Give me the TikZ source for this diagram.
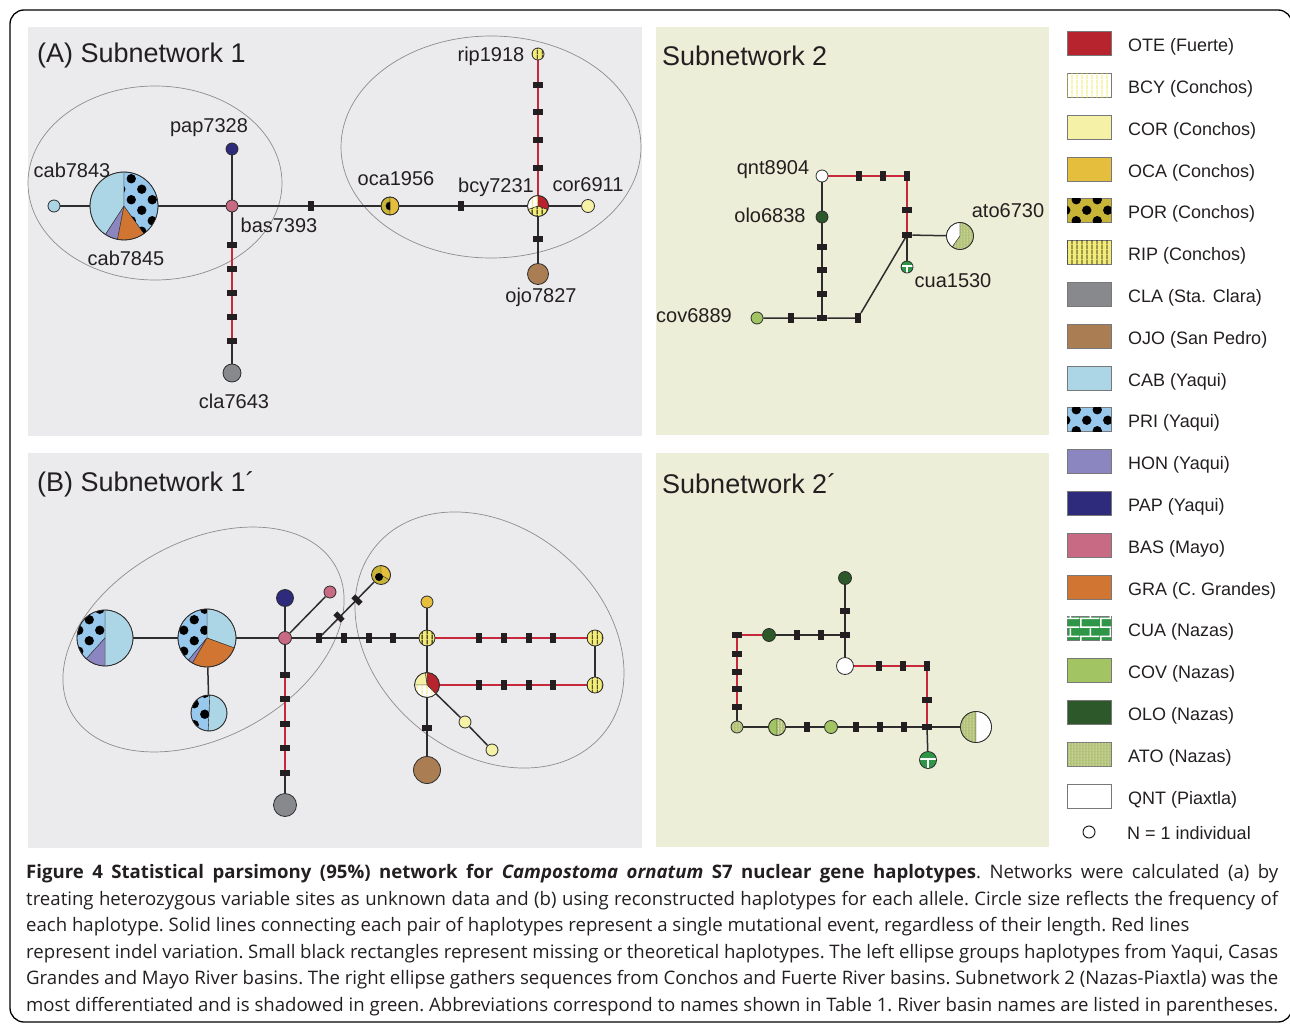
\documentclass[tikz,border=0pt]{standalone}
\usepackage{fontspec}
\setmainfont{Liberation Sans}
\newfontfamily\capfont{Open Sans}
\usetikzlibrary{patterns}

\definecolor{OTE}{RGB}{183,36,46}
\definecolor{BCYl}{RGB}{240,226,40}
\definecolor{COR}{RGB}{245,242,168}
\definecolor{OCA}{RGB}{228,190,60}
\definecolor{POR}{RGB}{200,180,55}
\definecolor{RIP}{RGB}{243,236,120}
\definecolor{CLA}{RGB}{136,137,140}
\definecolor{OJO}{RGB}{170,125,82}
\definecolor{CAB}{RGB}{172,213,229}
\definecolor{PRI}{RGB}{152,200,236}
\definecolor{HON}{RGB}{140,134,192}
\definecolor{PAP}{RGB}{46,43,125}
\definecolor{BAS}{RGB}{200,106,132}
\definecolor{GRA}{RGB}{208,117,50}
\definecolor{CUA}{RGB}{47,150,72}
\definecolor{COV}{RGB}{162,196,98}
\definecolor{OLO}{RGB}{45,88,42}
\definecolor{ATO}{RGB}{178,194,120}
\definecolor{ATOl}{RGB}{232,236,200}
\definecolor{panelA}{RGB}{235,235,238}
\definecolor{panelB}{RGB}{237,238,216}
\definecolor{linec}{RGB}{45,45,45}
\definecolor{indelc}{RGB}{200,40,60}
\definecolor{barc}{RGB}{35,31,32}
\definecolor{textc}{RGB}{35,31,32}
\definecolor{ringc}{RGB}{140,140,140}
\definecolor{swc}{RGB}{120,120,120}

% fill patterns of the haplotype groups
\pgfdeclarepatternformonly{hapdots}{\pgfpoint{-1pt}{-1pt}}{\pgfpoint{22pt}{22pt}}{\pgfpoint{21pt}{21pt}}{%
  \pgfpathcircle{\pgfpoint{5.25pt}{5.25pt}}{4.7pt}%
  \pgfpathcircle{\pgfpoint{15.75pt}{15.75pt}}{4.7pt}%
  \pgfusepath{fill}}
\pgfdeclarepatternformonly{hapstripes}{\pgfpointorigin}{\pgfpoint{5pt}{5pt}}{\pgfpoint{5pt}{5pt}}{%
  \pgfpathrectangle{\pgfpoint{2pt}{0pt}}{\pgfpoint{0.9pt}{5pt}}%
  \pgfusepath{fill}}
\pgfdeclarepatternformonly{hapfine}{\pgfpointorigin}{\pgfpoint{3pt}{3pt}}{\pgfpoint{3pt}{3pt}}{%
  \pgfpathrectangle{\pgfpoint{1pt}{0pt}}{\pgfpoint{0.8pt}{3pt}}%
  \pgfusepath{fill}}
\pgfdeclarepatternformonly{hapbricks}{\pgfpointorigin}{\pgfpoint{20pt}{18pt}}{\pgfpoint{20pt}{18pt}}{%
  \pgfpathrectangle{\pgfpoint{0pt}{0pt}}{\pgfpoint{20pt}{1.6pt}}%
  \pgfpathrectangle{\pgfpoint{0pt}{9pt}}{\pgfpoint{20pt}{1.6pt}}%
  \pgfpathrectangle{\pgfpoint{0pt}{0pt}}{\pgfpoint{1.6pt}{9pt}}%
  \pgfpathrectangle{\pgfpoint{10pt}{9pt}}{\pgfpoint{1.6pt}{9pt}}%
  \pgfusepath{fill}}

\pgfdeclarelayer{back}
\pgfdeclarelayer{edge}
\pgfsetlayers{back,edge,main}

\tikzset{
  hap/.style={circle, draw=linec, line width=0.8pt, inner sep=0pt, minimum size=#1},
  link/.style={draw=linec, line width=1.5pt},
  indel/.style={draw=indelc, line width=1.5pt},
  mut/.style={rectangle, fill=barc, inner sep=0pt, minimum width=5.5pt, minimum height=10.5pt},
  mutv/.style={mut, minimum width=10.5pt, minimum height=5.5pt},
  ring/.style={draw=ringc, line width=0.7pt},
  lbl/.style={font=\fontsize{20}{24}\selectfont, text=textc, inner sep=0pt},
  ttl/.style={font=\fontsize{27}{32}\selectfont, text=textc, inner sep=0pt, anchor=west},
  legtxt/.style={font=\fontsize{18}{22}\selectfont, text=textc, inner sep=0pt, anchor=west},
  swatch/.style={rectangle, draw=swc, line width=0.7pt, inner sep=0pt, minimum width=44pt, minimum height=24pt},
  sOTE/.style={fill=OTE},
  sBCY/.style={fill=white, postaction={pattern=hapstripes, pattern color=BCYl}},
  sCOR/.style={fill=COR},
  sOCA/.style={fill=OCA},
  sPOR/.style={fill=POR, postaction={pattern=hapdots, pattern color=black}},
  sPORp/.style={fill=POR},
  sRIP/.style={fill=RIP, postaction={pattern=hapstripes, pattern color=black}},
  sCLA/.style={fill=CLA},
  sOJO/.style={fill=OJO},
  sCAB/.style={fill=CAB},
  sPRI/.style={fill=PRI, postaction={pattern=hapdots, pattern color=black}},
  sHON/.style={fill=HON},
  sPAP/.style={fill=PAP},
  sBAS/.style={fill=BAS},
  sGRA/.style={fill=GRA},
  sCUA/.style={fill=CUA, postaction={pattern=hapbricks, pattern color=white}},
  sCUAp/.style={fill=CUA},
  sCOV/.style={fill=COV},
  sOLO/.style={fill=OLO},
  sATO/.style={fill=ATO, postaction={pattern=hapfine, pattern color=ATOl}},
  sQNT/.style={fill=white}
}

% pie slice: centre, radius, from angle, to angle, fill style
\newcommand\hapslice[5]{%
  \filldraw[#5, draw=linec, line width=0.4pt] (#1) -- ++({-(#3)}:#2)
    arc[start angle={-(#3)}, end angle={-(#4)}, radius=#2] -- cycle;}
\newcommand\hapdisc[3]{\fill[#3] (#1) circle[radius=#2];}

\begin{document}
\begin{tikzpicture}[x=1pt, y=-1pt]
\useasboundingbox (0,0) rectangle (1290,1024);
\draw[line width=1.3pt, rounded corners=14pt] (10,10) rectangle (1292,1022);

\begin{pgfonlayer}{back}
  \fill[panelA] (28,27) rectangle (642,436);
  \fill[panelB] (656,27) rectangle (1049,435);
  \fill[panelA] (28,453) rectangle (642,848);
  \fill[panelB] (656,453) rectangle (1049,847);
  \draw[ring] (155,183) ellipse[x radius=127, y radius=97];
  \draw[ring] (491,147) ellipse[x radius=150, y radius=111];
  \draw[ring, rotate around={28.7:(203.5,639.5)}] (203.5,639.5) ellipse[x radius=151, y radius=98];
  \draw[ring, rotate around={-39.6:(489.5,640)}] (489.5,640) ellipse[x radius=147.5, y radius=112.8];
\end{pgfonlayer}

\node[ttl] (titleA) at (37,56) {(A) Subnetwork 1};
\node[ttl] (titleA2) at (662,56) {Subnetwork 2};
\node[ttl] (titleB) at (37,484) {(B) Subnetwork 1´};
\node[ttl] (titleB2) at (662,484) {Subnetwork 2´};

% ---------- (A) subnetwork 1
\node[hap=12pt, sCAB] (cab7843) at (54,206) {};
\hapslice{124,206}{34}{90}{237}{sCAB}
\hapslice{124,206}{34}{237}{259}{sHON}
\hapslice{124,206}{34}{259}{306}{sGRA}
\hapslice{124,206}{34}{306}{450}{sPRI}
\node[hap=68pt] (cab7845) at (124,206) {};
\node[hap=12pt, sBAS] (bas7393) at (232,206) {};
\node[hap=12pt, sPAP] (pap7328) at (232,149) {};
\node[hap=18pt, sCLA] (cla7643) at (232,373) {};
\hapslice{390,206}{9}{90}{270}{sPORp}
\hapslice{390,206}{9}{-90}{90}{sOCA}
\hapslice{390,206}{4.2}{90}{270}{black}
\node[hap=18pt] (oca1956) at (390,206) {};
\hapslice{538,206}{10.5}{90}{200}{sBCY}
\hapslice{538,206}{10.5}{200}{340}{sRIP}
\hapslice{538,206}{10.5}{340}{450}{sOTE}
\node[hap=21pt] (bcy7231) at (538,206) {};
\node[hap=13pt, sCOR] (cor6911) at (588,206) {};
\hapdisc{538,54}{6}{sRIP}
\node[hap=12pt] (rip1918) at (538,54) {};
\node[hap=21pt, sOJO] (ojo7827) at (538,274) {};

\node[mut] (a0) at (311,206) {};
\node[mut] (a6) at (461,206) {};
\foreach \y [count=\k] in {245,269,293,317,341} \node[mutv] (a\k) at (232,\y) {};
\foreach \y [count=\k] in {85,112,140,168} \node[mutv] (r\k) at (538,\y) {};
\node[mutv] (a7) at (538,239) {};

\begin{pgfonlayer}{edge}
  \draw[link] (cab7843) -- (cab7845) -- (bas7393) -- (oca1956) -- (bcy7231) -- (cor6911);
  \draw[link] (pap7328) -- (bas7393) -- (cla7643);
  \draw[indel] (a1) -- (a5);
  \draw[indel] (bcy7231) -- (rip1918);
  \draw[link] (bcy7231) -- (ojo7827);
\end{pgfonlayer}

\node[lbl] (pap7328-t) at (209,128) {pap7328};
\node[lbl] (cab7843-t) at (72,170) {cab7843};
\node[lbl] (cab7845-t) at (126,258) {cab7845};
\node[lbl] (bas7393-t) at (279,225) {bas7393};
\node[lbl] (cla7643-t) at (234,401) {cla7643};
\node[lbl] (oca1956-t) at (396,179) {oca1956};
\node[lbl] (bcy7231-t) at (496,187) {bcy7231};
\node[lbl] (cor6911-t) at (588,185) {cor6911};
\node[lbl] (rip1918-t) at (491,56) {rip1918};
\node[lbl] (ojo7827-t) at (541,297) {ojo7827};

% ---------- subnetwork 2
\node[hap=12pt, sQNT] (qnt8904) at (822,176) {};
\node[hap=12pt, sOLO] (olo6838) at (822,217) {};
\node[hap=12pt, sCOV] (cov6889) at (757,318) {};
\hapslice{960,236}{13.5}{90}{235}{sQNT}
\hapslice{960,236}{13.5}{235}{450}{sATO}
\node[hap=27pt] (ato6730) at (960,236) {};
\hapdisc{907,267}{6}{sCUAp}
\draw[white, line width=1.3pt] (901.5,266) -- (912.5,266) (907,266) -- (907,273);
\node[hap=12pt] (cua1530) at (907,267) {};

\node[mutv] (j1) at (822,318) {};
\node[mut] (j0) at (791,318) {};
\foreach \y [count=\k] in {247,270,294} \node[mutv] (v\k) at (822,\y) {};
\node[mut] (j2) at (858,318) {};
\node[mut] (c2) at (859,176) {};
\node[mut] (c3) at (883,176) {};
\node[mut] (c1) at (907,176) {};
\node[mutv] (c4) at (907,210) {};
\node[mutv] (j3) at (907,235) {};

\begin{pgfonlayer}{edge}
  \draw[link] (qnt8904) -- (olo6838) -- (j1);
  \draw[link] (cov6889) -- (j1) -- (j2) -- (j3) -- (ato6730);
  \draw[link] (j3) -- (cua1530);
  \draw[indel] (qnt8904) -- (c1) -- (j3);
\end{pgfonlayer}

\node[lbl] (qnt8904-t) at (773,170) {qnt8904};
\node[lbl] (olo6838-t) at (770,215) {olo6838};
\node[lbl] (ato6730-t) at (1008,211) {ato6730};
\node[lbl] (cua1530-t) at (953,281) {cua1530};
\node[lbl] (cov6889-t) at (694,316) {cov6889};

% ---------- (B) subnetwork 1'
\hapslice{105,638}{28}{-90}{90}{sCAB}
\hapslice{105,638}{28}{90}{228}{sPRI}
\hapslice{105,638}{28}{228}{270}{sHON}
\node[hap=56pt] (yq1) at (105,638) {};
\hapslice{207,638}{29}{-20}{90}{sCAB}
\hapslice{207,638}{29}{90}{230}{sPRI}
\hapslice{207,638}{29}{230}{240}{sHON}
\hapslice{207,638}{29}{240}{340}{sGRA}
\node[hap=58pt] (yq2) at (207,638) {};
\hapslice{209,713}{18}{-93}{88}{sCAB}
\hapslice{209,713}{18}{88}{267}{sPRI}
\node[hap=36pt] (yq3) at (209,713) {};
\node[hap=13pt, sBAS] (basB) at (285,638) {};
\node[hap=17pt, sPAP] (papB) at (285,598) {};
\node[hap=12pt, sBAS] (basB2) at (330,592) {};
\node[hap=23pt, sCLA] (claB) at (285,805) {};
\hapdisc{381,575}{9.5}{sPORp}
\hapslice{381,575}{9.5}{-30}{90}{sOCA}
\fill[black] (379,577) circle[radius=4];
\node[hap=19pt] (porB) at (381,575) {};
\hapdisc{427,638}{8}{sRIP}
\node[hap=16pt] (ripB1) at (427,638) {};
\node[hap=12pt, sOCA] (ocaB) at (427,602) {};
\hapdisc{595,638}{8}{sRIP}
\node[hap=16pt] (ripB2) at (595,638) {};
\hapdisc{595,685}{8}{sRIP}
\node[hap=16pt] (ripB3) at (595,685) {};
\hapslice{427,685}{12.5}{-45}{90}{sOTE}
\hapslice{427,685}{12.5}{90}{98}{sRIP}
\hapslice{427,685}{12.5}{98}{180}{sCOR}
\hapslice{427,685}{12.5}{180}{315}{sBCY}
\node[hap=25pt] (oteB) at (427,685) {};
\node[hap=12pt, sCOR] (corB1) at (465,722) {};
\node[hap=12pt, sCOR] (corB2) at (492,750) {};
\node[hap=27pt, sOJO] (ojoB) at (427,770) {};

\foreach \x [count=\k] in {319,344,369,393} \node[mut] (h\k) at (\x,638) {};
\foreach \y [count=\k] in {675,699,724,748,773} \node[mutv] (b\k) at (285,\y) {};
\node[mut, rotate=45] (d1) at (339,617) {};
\node[mut, rotate=45] (d2) at (357,600) {};
\foreach \x [count=\k] in {479,504,529,553} {
  \node[mut] (g\k) at (\x,638) {};
  \node[mut] (f\k) at (\x,685) {};
}
\node[mutv] (b6) at (427,728) {};

\begin{pgfonlayer}{edge}
  \draw[link] (yq1) -- (yq2) -- (basB) -- (ripB1);
  \draw[link] (yq2) -- (yq3);
  \draw[link] (papB) -- (basB) -- (claB);
  \draw[indel] (b1) -- (b5);
  \draw[link] (basB) -- (basB2);
  \draw[link] (h1) -- (porB);
  \draw[link] (ripB1) -- (ocaB);
  \draw[indel] (ripB1) -- (ripB2);
  \draw[link] (ripB2) -- (ripB3);
  \draw[indel] (ripB3) -- (oteB);
  \draw[link] (ripB1) -- (oteB) -- (ojoB);
  \draw[link] (oteB) -- (corB1) -- (corB2);
\end{pgfonlayer}

% ---------- subnetwork 2'
\node[hap=13pt, sOLO] (oloT) at (845,578) {};
\node[hap=17pt, sQNT] (qntB) at (845,666) {};
\node[hap=13pt, sOLO] (oloB) at (769,635) {};
\hapdisc{737,727}{6}{sATO}
\node[hap=12pt] (atoS) at (737,727) {};
\hapslice{777,727}{8.5}{90}{270}{sCOV}
\hapslice{777,727}{8.5}{-90}{90}{sATO}
\node[hap=17pt] (covato) at (777,727) {};
\node[hap=13pt, sCOV] (covB) at (831,727) {};
\hapslice{976,727}{15.5}{90}{270}{sATO}
\hapslice{976,727}{15.5}{-90}{90}{sQNT}
\node[hap=31pt] (atoBig) at (976,727) {};
\hapdisc{928,760}{8.5}{sCUAp}
\draw[white, line width=1.4pt] (920,759) -- (936,759) (928,759) -- (928,768.5);
\node[hap=17pt] (cuaB) at (928,760) {};

\node[mutv] (k0) at (845,611) {};
\node[mutv] (k1) at (845,635) {};
\node[mut] (k5) at (821,635) {};
\node[mut] (k6) at (797,635) {};
\node[mutv] (k2) at (737,635) {};
\foreach \y [count=\k] in {654,672,689} \node[mutv] (e\k) at (737,\y) {};
\node[mutv] (k2e) at (737,707) {};
\foreach \x [count=\k] in {807,856,880,904} \node[mut] (p\k) at (\x,727) {};
\node[mutv] (k3) at (927,727) {};
\node[mut] (q1) at (879,666) {};
\node[mut] (q2) at (903,666) {};
\node[mut] (k4) at (927,666) {};
\node[mutv] (q3) at (927,700) {};

\begin{pgfonlayer}{edge}
  \draw[link] (oloT) -- (k1) -- (qntB);
  \draw[link] (k1) -- (oloB);
  \draw[indel] (oloB) -- (k2);
  \draw[link] (k2) -- (atoS);
  \draw[indel] (k2) -- (k2e);
  \draw[link] (atoS) -- (covato) -- (covB) -- (k3) -- (atoBig);
  \draw[indel] (qntB) -- (k4) -- (k3);
  \draw[link] (k3) -- (cuaB);
\end{pgfonlayer}

% ---------- legend
\foreach \sw/\txt [count=\i from 0] in {sOTE/OTE (Fuerte), sBCY/BCY (Conchos),
    sCOR/COR (Conchos), sOCA/OCA (Conchos), sPOR/POR (Conchos), sRIP/RIP (Conchos),
    sCLA/CLA (Sta. Clara), sOJO/OJO (San Pedro), sCAB/CAB (Yaqui), sPRI/PRI (Yaqui),
    sHON/HON (Yaqui), sPAP/PAP (Yaqui), sBAS/BAS (Mayo), sGRA/GRA (C. Grandes),
    sCUA/CUA (Nazas), sCOV/COV (Nazas), sOLO/OLO (Nazas), sATO/ATO (Nazas),
    sQNT/QNT (Piaxtla)} {
  \node[swatch, \sw] (sw\i) at (1089,43.5+41.8*\i) {};
  \node[legtxt] (lg\i) at (1128,47+41.8*\i) {\txt};
}
\node[hap=12pt, draw=textc, line width=1pt] (nscale) at (1089,832) {};
\node[legtxt] (nscale-t) at (1127,833) {N = 1 individual};

% ---------- caption
\node[anchor=north west, inner sep=0pt, text width=1252pt, align=justify, text=textc,
      font=\capfont\fontsize{18.6}{26.6}\selectfont\frenchspacing] (caption) at (26,864) {%
{\bfseries Figure 4 Statistical parsimony (95\%) network for \textit{Campostoma ornatum} S7 nuclear gene haplotypes}. Networks were calculated (a) by\linebreak
treating heterozygous variable sites as unknown data and (b) using reconstructed haplotypes for each allele. Circle size reflects the frequency of\linebreak
each haplotype. Solid lines connecting each pair of haplotypes represent a single mutational event, regardless of their length. Red lines\newline
represent indel variation. Small black rectangles represent missing or theoretical haplotypes. The left ellipse groups haplotypes from Yaqui, Casas\linebreak
Grandes and Mayo River basins. The right ellipse gathers sequences from Conchos and Fuerte River basins. Subnetwork 2 (Nazas-Piaxtla) was the\linebreak
most differentiated and is shadowed in green. Abbreviations correspond to names shown in Table 1. River basin names are listed in parentheses.{\parfillskip=0pt\par}};
\end{tikzpicture}
\end{document}
